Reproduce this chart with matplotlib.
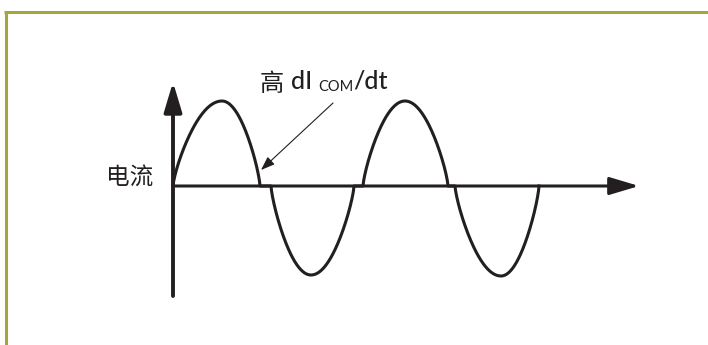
import numpy as np
import matplotlib.pyplot as plt

# Lobes of the commutated current waveform (time units, current units)
lobe_start = [0, 98, 190, 282]
lobe_peak = [49, 138, 232, 328]
lobe_end = [87, 181, 275, 366]
lobe_amp = [85, -89, 85, -90]

axis_t_end = 466
axis_i_top = 104
axis_i_bottom = -110

ink = "#231f20"
olive = "#a8a43e"

# build the waveform: two rounded quarter waves per lobe, flat between lobes
t_all = []
i_all = []
for s, p, e, a in zip(lobe_start, lobe_peak, lobe_end, lobe_amp):
    t1 = np.linspace(s, p, 80)
    t2 = np.linspace(p, e, 80)
    i1 = a * np.sin(0.5 * np.pi * (t1 - s) / (p - s)) ** 0.75
    i2 = a * np.cos(0.5 * np.pi * (t2 - p) / (e - p)) ** 0.75
    t_all.extend(t1)
    t_all.extend(t2)
    i_all.extend(i1)
    i_all.extend(i2)

fig = plt.figure(figsize=(7.08, 3.45), dpi=100)
ax = fig.add_axes([0, 0, 1, 1])
ax.set_xlim(-173, 535)
ax.set_ylim(-159, 186)
ax.axis("off")

# panel border (top and left)
ax.plot([-169, 535], [174.5, 174.5], color=olive, lw=2.2, solid_capstyle="butt")
ax.plot([-167.5, -167.5], [-159, 175.5], color=olive, lw=2.2, solid_capstyle="butt")

# axes with arrowheads
ax.annotate("", xy=(axis_t_end, 0), xytext=(0, 0),
            arrowprops=dict(arrowstyle="-|>,head_length=1.0,head_width=0.3",
                            mutation_scale=18, lw=2.2, color=ink,
                            shrinkA=0, shrinkB=0))
ax.annotate("", xy=(0, axis_i_top), xytext=(0, axis_i_bottom),
            arrowprops=dict(arrowstyle="-|>,head_length=1.0,head_width=0.3",
                            mutation_scale=18, lw=2.8, color=ink,
                            shrinkA=0, shrinkB=0))

ax.plot(t_all, i_all, color=ink, lw=2.2, solid_joinstyle="round")

# labels
ax.text(-20, 8, "电流", fontsize=17, family=["Noto Sans CJK SC"],
        ha="right", va="center", color=ink)

t0 = ax.text(87, 95, "高", fontsize=17.5, family=["Noto Sans CJK SC"],
             ha="left", va="baseline", color=ink)
t1 = ax.annotate("dI", xy=(1, 0), xycoords=t0, xytext=(5, 3),
                 textcoords="offset points", fontsize=18, family=["Lato"],
                 weight="medium", ha="left", va="bottom", color=ink)
t2 = ax.annotate("COM", xy=(1, 0), xycoords=t1, xytext=(4, -1),
                 textcoords="offset points", fontsize=10.5, family=["Lato"],
                 ha="left", va="bottom", color=ink)
ax.annotate("/dt", xy=(1, 0), xycoords=t2, xytext=(0, 1),
            textcoords="offset points", fontsize=18, family=["Lato"],
            weight="medium", ha="left", va="bottom", color=ink)

ax.annotate("", xy=(88, 16), xytext=(160, 83),
            arrowprops=dict(arrowstyle="-|>,head_length=0.6,head_width=0.22",
                            mutation_scale=14, lw=0.8, color=ink,
                            shrinkA=0, shrinkB=0))

fig.savefig("out.png", dpi=100)
